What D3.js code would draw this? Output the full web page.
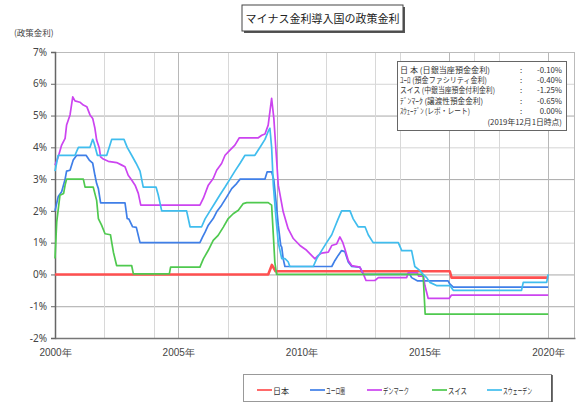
<!DOCTYPE html>
<html><head><meta charset="utf-8">
<script src="https://cdn.jsdelivr.net/npm/d3@7"></script>
<style>
html,body{margin:0;padding:0;background:#fff;}
svg{display:block;font-family:"Noto Sans CJK JP","Noto Sans",sans-serif;}
</style></head>
<body>
<svg id="c" width="581" height="404"></svg>
<script>
// ---- data (decimal year, percent) ----
const seriesNames = ["日本", "ユーロ圏", "デンマーク", "スイス", "スウェーデン"];
const seriesColors = ["#ff5050", "#3f7fe8", "#cc44f0", "#4fc94f", "#40bdee"];

const japan = [[2000.0,0],[2008.65,0],[2008.8,0.3],[2008.95,0.1],[2016.02,0.1],[2016.09,-0.1],[2020.01,-0.1]];

const euro = [[2000.0,2.0],[2000.13,2.45],[2000.27,2.6],[2000.41,3.0],[2000.47,3.25],[2000.61,3.28],[2000.74,3.6],[2000.88,3.75],[2001.26,3.75],[2001.39,3.6],[2001.53,3.5],[2001.62,3.12],[2001.69,2.86],[2001.76,2.7],[2001.85,2.25],[2002.84,2.25],[2002.93,1.76],[2003.0,1.74],[2003.15,1.5],[2003.3,1.48],[2003.45,1.0],[2005.88,1.0],[2005.99,1.18],[2006.09,1.33],[2006.22,1.55],[2006.42,1.76],[2006.56,1.97],[2006.76,2.18],[2006.97,2.44],[2007.17,2.7],[2007.37,2.86],[2007.51,3.0],[2008.52,3.0],[2008.61,3.23],[2008.79,3.23],[2008.88,2.97],[2008.97,2.28],[2009.06,1.55],[2009.16,0.91],[2009.2,0.86],[2009.26,0.49],[2009.33,0.25],[2011.23,0.25],[2011.36,0.44],[2011.49,0.6],[2011.63,0.75],[2011.76,0.72],[2011.9,0.39],[2012.04,0.25],[2012.37,0.23],[2012.51,0.0],[2014.4,0.0],[2014.47,-0.1],[2014.7,-0.2],[2015.95,-0.2],[2016.02,-0.3],[2016.16,-0.4],[2020.01,-0.4]];

const denmark = [[2000.0,3.44],[2000.13,3.7],[2000.27,4.07],[2000.41,4.28],[2000.47,4.7],[2000.61,5.02],[2000.72,5.59],[2000.81,5.46],[2001.01,5.42],[2001.15,5.33],[2001.29,5.28],[2001.42,5.02],[2001.53,4.91],[2001.62,4.6],[2001.69,4.23],[2001.8,3.97],[2001.85,3.7],[2001.96,3.63],[2002.16,3.56],[2002.5,3.52],[2002.71,3.44],[2002.84,3.39],[2002.97,3.12],[2003.11,2.97],[2003.25,2.81],[2003.38,2.55],[2003.48,2.18],[2005.88,2.18],[2006.02,2.4],[2006.22,2.81],[2006.42,3.02],[2006.56,3.28],[2006.76,3.49],[2006.9,3.75],[2007.1,3.91],[2007.3,4.07],[2007.48,4.3],[2008.25,4.3],[2008.39,4.38],[2008.52,4.42],[2008.65,4.7],[2008.79,5.54],[2008.88,4.91],[2008.97,3.86],[2009.06,2.81],[2009.26,1.97],[2009.46,1.44],[2009.67,1.13],[2009.94,0.91],[2010.21,0.76],[2010.41,0.6],[2010.55,0.49],[2010.68,0.6],[2010.82,0.67],[2011.09,0.7],[2011.23,0.91],[2011.43,0.96],[2011.56,1.18],[2011.67,1.02],[2011.76,0.81],[2011.9,0.44],[2012.04,0.28],[2012.37,0.23],[2012.51,0.02],[2012.62,-0.19],[2012.98,-0.19],[2013.12,-0.1],[2014.27,-0.1],[2014.33,0.05],[2014.7,0.05],[2014.75,-0.05],[2014.95,-0.05],[2015.01,-0.35],[2015.14,-0.75],[2016.0,-0.75],[2016.09,-0.65],[2020.01,-0.65]];

const swiss = [[2000.0,0.5],[2000.07,1.65],[2000.2,2.49],[2000.35,2.55],[2000.41,2.81],[2000.47,3.0],[2001.15,3.0],[2001.22,2.75],[2001.55,2.75],[2001.69,2.33],[2001.76,1.76],[2001.89,1.55],[2002.03,1.28],[2002.25,1.25],[2002.3,1.02],[2002.37,0.7],[2002.5,0.28],[2003.11,0.28],[2003.18,0.02],[2004.64,0.02],[2004.69,0.23],[2005.88,0.23],[2006.02,0.49],[2006.22,0.76],[2006.42,1.07],[2006.62,1.23],[2006.83,1.49],[2007.03,1.76],[2007.23,1.91],[2007.44,2.02],[2007.64,2.23],[2007.78,2.26],[2008.65,2.26],[2008.79,2.18],[2008.86,1.23],[2008.92,0.39],[2008.99,0.0],[2014.88,0.0],[2014.94,-0.05],[2015.02,-1.25],[2020.01,-1.25]];

const sweden = [[2000.0,3.25],[2000.13,3.75],[2000.81,3.75],[2000.95,4.0],[2001.42,4.0],[2001.53,4.25],[2001.58,4.15],[2001.72,3.75],[2002.1,3.75],[2002.3,4.25],[2002.8,4.25],[2002.93,4.0],[2003.11,3.75],[2003.29,3.5],[2003.45,3.25],[2003.58,2.75],[2004.1,2.75],[2004.19,2.5],[2004.33,2.0],[2005.34,2.0],[2005.48,1.5],[2005.95,1.5],[2006.09,1.75],[2006.29,2.0],[2006.49,2.25],[2006.69,2.5],[2006.9,2.75],[2007.1,3.0],[2007.3,3.25],[2007.51,3.5],[2007.71,3.75],[2008.11,3.75],[2008.32,4.0],[2008.52,4.25],[2008.65,4.5],[2008.72,4.6],[2008.79,4.0],[2008.86,2.8],[2008.97,1.75],[2009.06,1.0],[2009.2,0.5],[2009.33,0.5],[2009.46,0.4],[2009.53,0.25],[2010.48,0.25],[2010.62,0.5],[2010.82,0.75],[2011.02,1.0],[2011.23,1.25],[2011.36,1.5],[2011.49,1.75],[2011.63,2.0],[2011.97,2.0],[2012.1,1.75],[2012.3,1.5],[2012.58,1.5],[2012.71,1.25],[2012.91,1.0],[2013.93,1.0],[2014.07,0.75],[2014.47,0.75],[2014.6,0.25],[2014.81,0.12],[2014.94,0.0],[2015.08,-0.1],[2015.21,-0.25],[2015.48,-0.35],[2016.02,-0.35],[2016.16,-0.5],[2018.93,-0.5],[2019.0,-0.25],[2019.95,-0.25],[2020.01,0.0]];

const allSeries = [japan, euro, denmark, swiss, sweden];

const yTicks = [7,6,5,4,3,2,1,0,-1,-2];
const xLabelYears = [2000, 2005, 2010, 2015, 2020];
const xGridYears = [2002, 2004, 2005, 2007, 2009, 2011, 2013, 2014, 2016, 2017, 2018, 2020];
const xGridDark = [2005, 2009, 2016, 2020];
const yGridDark = [5, 3, 0, -1];

const title = "マイナス金利導入国の政策金利";
const yAxisTitle = "(政策金利)";
const noteLabels = ["日 本 (日銀当座預金金利)", "ﾕｰﾛ (預金ファシリティ金利)", "スイス (中銀当座預金付利金利)", "ﾃﾞﾝﾏｰｸ (譲渡性預金金利)", "ｽｳｪｰﾃﾞﾝ (レポ・レート)"];
const noteValues = ["-0.10%", "-0.40%", "-1.25%", "-0.65%", "0.00%"];
const noteDate = "(2019年12月1日時点)";

// ---- layout ----
const svg = d3.select("#c");
const L = 55, R = 575, T = 52, B = 338;
const x = d3.scaleLinear().domain([2000, 2021.1]).range([L, R]);
const y = d3.scaleLinear().domain([-2, 7]).range([B, T]);

// gridlines
const g = svg.append("g");
g.selectAll(".hg").data(yTicks.filter(d => d > -2 && d < 7)).join("line")
  .attr("x1", L).attr("x2", R).attr("y1", d => y(d) + 0.5).attr("y2", d => y(d) + 0.5)
  .attr("stroke", d => yGridDark.includes(d) ? "#a8a8a8" : "#d4d4d4").attr("stroke-width", 1);
g.selectAll(".vg").data(xGridYears).join("line")
  .attr("x1", d => Math.round(x(d)) + 0.5).attr("x2", d => Math.round(x(d)) + 0.5)
  .attr("y1", T).attr("y2", B)
  .attr("stroke", d => xGridDark.includes(d) ? "#b8b8b8" : "#d8d8d8").attr("stroke-width", 1);

// frame
svg.append("line").attr("x1", L).attr("x2", R).attr("y1", T + 0.5).attr("y2", T + 0.5).attr("stroke", "#bbb");
svg.append("line").attr("x1", R - 0.5).attr("x2", R - 0.5).attr("y1", T).attr("y2", B).attr("stroke", "#bbb");

// axes
const yAxis = d3.axisLeft(y).tickValues(yTicks).tickSize(4).tickFormat(d => d + "%");
const ya = svg.append("g").attr("transform", `translate(${L},0)`).call(yAxis);
ya.select(".domain").attr("stroke", "#666").attr("stroke-width", 1.5);
ya.selectAll(".tick line").attr("stroke", "#666");
ya.selectAll("text").attr("font-size", 10).attr("fill", "#444").attr("x", -8)
  .attr("font-family", "'Noto Sans','DejaVu Sans',sans-serif");

const xAxis = d3.axisBottom(x).tickValues(xLabelYears).tickSize(0).tickPadding(11).tickFormat(d => d + "年");
const xa = svg.append("g").attr("transform", `translate(0,${B})`).call(xAxis);
xa.select(".domain").attr("stroke", "#777").attr("stroke-width", 1.5);
xa.selectAll("text").attr("font-size", 10).attr("fill", "#444");

// lines
const line = d3.line().x(d => x(d[0])).y(d => y(d[1]));
svg.append("g").selectAll("path").data(allSeries).join("path")
  .attr("d", line).attr("fill", "none")
  .attr("stroke", (d, i) => seriesColors[i])
  .attr("stroke-width", (d, i) => i === 0 ? 2.6 : 1.7)
  .attr("stroke-linejoin", "round");

// title box
const tb = svg.append("g");
tb.append("rect").attr("x", 244).attr("y", 7).attr("width", 161).attr("height", 26).attr("fill", "#555");
tb.append("rect").attr("x", 242).attr("y", 5).attr("width", 161).attr("height", 26)
  .attr("fill", "#fff").attr("stroke", "#444").attr("stroke-width", 1);
tb.append("text").attr("x", 322.5).attr("y", 22.5).attr("text-anchor", "middle")
  .attr("font-size", 11).attr("fill", "#222").text(title);

// y axis title
svg.append("text").attr("x", 14).attr("y", 36).attr("font-size", 8.5).attr("fill", "#444").text(yAxisTitle);

// note box
const noteWidths = [90, 87, 95, 83, 70];
const nb = svg.append("g");
nb.append("rect").attr("x", 397.5).attr("y", 61.5).attr("width", 169).attr("height", 69)
  .attr("fill", "#fff").attr("stroke", "#666").attr("stroke-width", 1);
noteLabels.forEach((t, i) => {
  const yy = 73 + i * 10.2;
  nb.append("text").attr("x", 400).attr("y", yy).attr("font-size", 7.8).attr("fill", "#333")
    .attr("textLength", noteWidths[i]).attr("lengthAdjust", "spacingAndGlyphs").text(t);
  nb.append("text").attr("x", 520).attr("y", yy).attr("font-size", 7.8).attr("fill", "#333").text(":");
  nb.append("text").attr("x", 562).attr("y", yy).attr("text-anchor", "end").attr("font-size", 7.8).attr("fill", "#333").text(noteValues[i]);
});
nb.append("text").attr("x", 562).attr("y", 73 + 5 * 10.2 + 1).attr("text-anchor", "end")
  .attr("font-size", 7.8).attr("fill", "#333").text(noteDate);

// legend
const lg = svg.append("g");
lg.append("rect").attr("x", 243.5).attr("y", 374.5).attr("width", 308).attr("height", 27)
  .attr("fill", "#fff").attr("stroke", "#999").attr("stroke-width", 1);
lg.append("line").attr("x1", 552).attr("x2", 552).attr("y1", 375).attr("y2", 402).attr("stroke", "#444").attr("stroke-width", 1.5);
const legX = [257, 310, 367, 432, 487];
const legW = [16, 19, 26, 19, 29];
seriesNames.forEach((n, i) => {
  lg.append("line").attr("x1", legX[i]).attr("x2", legX[i] + 15).attr("y1", 390).attr("y2", 390)
    .attr("stroke", seriesColors[i]).attr("stroke-width", 1.7);
  lg.append("text").attr("x", legX[i] + 16).attr("y", 393.5).attr("font-size", 8.5).attr("fill", "#333")
    .attr("textLength", legW[i]).attr("lengthAdjust", "spacingAndGlyphs").text(n);
});
</script>
</body></html>
